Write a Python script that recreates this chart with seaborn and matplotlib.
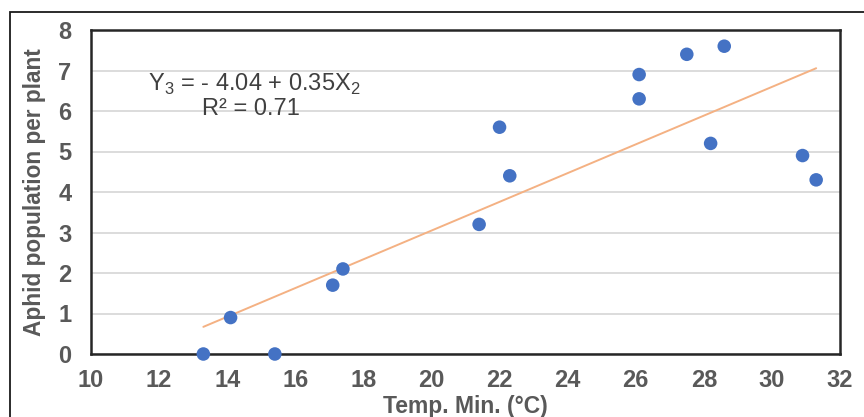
import matplotlib
matplotlib.use("Agg")
import matplotlib.pyplot as plt
import seaborn as sns
import pandas as pd
from matplotlib.patches import Rectangle

temp_min = [13.3, 14.1, 15.4, 17.1, 17.4, 21.4, 22.0, 22.3, 26.1, 26.1, 27.5, 28.6, 28.2, 30.9, 31.3]
aphids = [0.0, 0.9, 0.0, 1.7, 2.1, 3.2, 5.6, 4.4, 6.9, 6.3, 7.4, 7.6, 5.2, 4.9, 4.3]
x_ticks = [10, 12, 14, 16, 18, 20, 22, 24, 26, 28, 30, 32]
y_ticks = [0, 1, 2, 3, 4, 5, 6, 7, 8]
eq_line1 = r"Y$_\mathregular{3}$ = - 4.04 + 0.35X$_\mathregular{2}$"
eq_line2 = "R² = 0.71"

df = pd.DataFrame({"temp": temp_min, "aphid": aphids})

sns.set_theme(style="white")
plt.rcParams["font.family"] = ["Liberation Sans", "DejaVu Sans"]
plt.rcParams["mathtext.fontset"] = "custom"
plt.rcParams["mathtext.rm"] = "Liberation Sans"

fig = plt.figure(figsize=(8.64, 4.17), dpi=100)
ax = fig.add_axes([91/864, 1-354/417, (840-91)/864, (354-30)/417])

# outer frame
fig.patches.append(Rectangle((10/864, -0.1), 1.2, 1-12/417+0.1, transform=fig.transFigure,
                             fill=False, edgecolor="#1a1a1a", linewidth=1.3))

ax.grid(axis="y", color="#d9d9d9", linewidth=1.3)
ax.set_axisbelow(True)

sns.regplot(data=df, x="temp", y="aphid", ax=ax, scatter=False, ci=None, truncate=True,
            line_kws=dict(color="#f4b183", linewidth=1.4, zorder=2))
sns.scatterplot(data=df, x="temp", y="aphid", ax=ax, color="#4472c4", s=95,
                edgecolor="none", zorder=3, clip_on=False)

ax.set_xlim(10, 32)
ax.set_ylim(0, 8)
ax.set_xticks(x_ticks)
ax.set_yticks(y_ticks)
ax.tick_params(axis="both", length=0, labelsize=17, labelcolor="#595959")
ax.tick_params(axis="x", pad=11)
ax.tick_params(axis="y", pad=14)
for lab in ax.get_xticklabels() + ax.get_yticklabels():
    lab.set_fontweight("bold")

ax.set_xlabel("Temp. Min. (°C)", fontsize=16.5, fontweight="bold", color="#595959", labelpad=0)
ax.set_ylabel("Aphid population per plant", fontsize=16.3, fontweight="bold", color="#595959", labelpad=4)
ax.xaxis.set_label_coords(0.5, -0.128)
ax.yaxis.set_label_coords(-0.060, 0.5)

for sp in ax.spines.values():
    sp.set_color("#262626")
    sp.set_linewidth(1.8)

ax.text(0.2176, 0.8326, eq_line1, transform=ax.transAxes, ha="center", va="center",
        fontsize=17, color="#404040")
ax.text(0.2136, 0.755, eq_line2, transform=ax.transAxes, ha="center", va="center",
        fontsize=17, color="#404040")

fig.savefig("out.png", dpi=100)
